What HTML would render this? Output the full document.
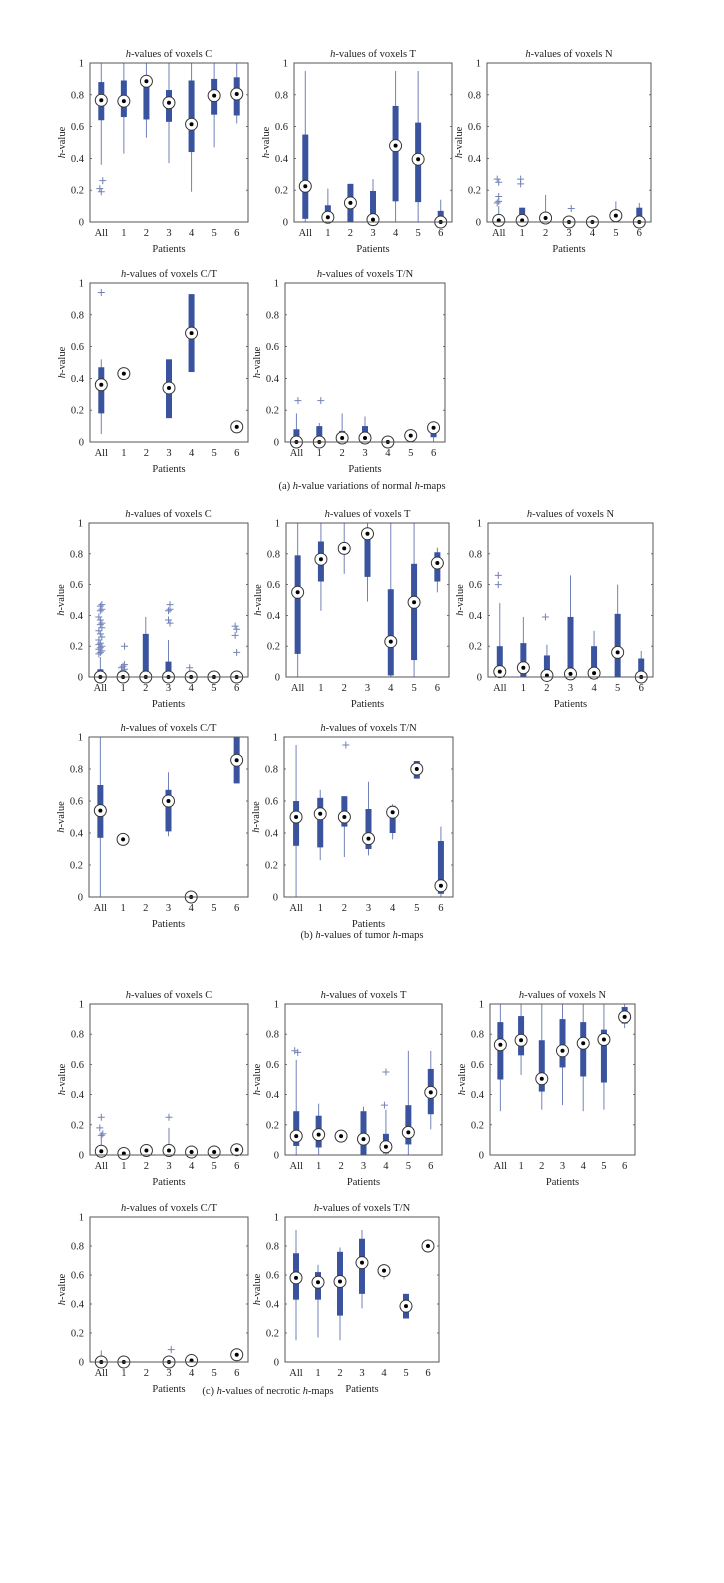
<!DOCTYPE html>
<html><head><meta charset="utf-8">
<style>
html,body{margin:0;padding:0;background:#fff;}
svg{display:block;font-family:"Liberation Serif",serif;}
</style></head>
<body>
<svg id="fig" width="724" height="1583" viewBox="0 0 724 1583" xmlns="http://www.w3.org/2000/svg"></svg>
<script>
const categories = ["All","1","2","3","4","5","6"];
const yTicks = [0,0.2,0.4,0.6,0.8,1];
const yTickLabels = ["0","0.2","0.4","0.6","0.8","1"];
const N = null;

// (a) normal - C
const aC_med=[0.766,0.76,0.885,0.75,0.615,0.795,0.805];
const aC_q1=[0.64,0.66,0.645,0.63,0.44,0.675,0.67];
const aC_q3=[0.88,0.89,0.92,0.83,0.89,0.90,0.91];
const aC_lo=[0.36,0.43,0.53,0.37,0.19,0.47,0.62];
const aC_hi=[1,1,1,1,1,1,1];
const aC_out=[[0.26,0.21,0.19],[],[],[],[],[],[]];
// (a) T
const aT_med=[0.225,0.03,0.12,0.015,0.48,0.395,0];
const aT_q1=[0.02,0,0,0,0.13,0.125,0];
const aT_q3=[0.55,0.105,0.24,0.195,0.73,0.625,0.07];
const aT_lo=[0,0,0,0,0,0,0];
const aT_hi=[0.95,0.21,0.24,0.27,0.95,0.95,0.14];
const aT_out=[[],[],[],[],[],[],[]];
// (a) N
const aN_med=[0.01,0.01,0.025,0,0,0.04,0];
const aN_q1=[0,0,0,N,N,0,0];
const aN_q3=[0.01,0.09,0.06,N,N,0.02,0.09];
const aN_lo=[0,0,0,0,0,0,0];
const aN_hi=[0.1,0.09,0.17,0,0,0.13,0.12];
const aN_out=[[0.27,0.25,0.16,0.13,0.12],[0.27,0.24],[],[0.085],[],[],[]];
// (a) C/T
const aCT_med=[0.36,0.43,N,0.34,0.685,N,0.095];
const aCT_q1=[0.18,N,N,0.15,0.44,N,0.06];
const aCT_q3=[0.47,N,N,0.52,0.93,N,0.13];
const aCT_lo=[0.05,N,N,0.15,0.44,N,0.06];
const aCT_hi=[0.52,N,N,0.52,0.93,N,0.13];
const aCT_out=[[0.94],[],[],[],[],[],[]];
// (a) T/N
const aTN_med=[0,0,0.025,0.025,0,0.04,0.09];
const aTN_q1=[0,0,0,0,N,0.02,0.03];
const aTN_q3=[0.08,0.1,0.07,0.1,N,0.06,0.07];
const aTN_lo=[0,0,0,0,0,0.02,0];
const aTN_hi=[0.18,0.12,0.18,0.16,0,0.06,0.1];
const aTN_out=[[0.26],[0.26],[],[],[],[],[]];

// (b) tumor - C
const bC_med=[0,0,0,0,0,0,0];
const bC_q1=[0,N,0,0,N,N,N];
const bC_q3=[0.05,N,0.28,0.1,N,N,N];
const bC_lo=[0,0,0,0,0,0,0];
const bC_hi=[0.13,0,0.39,0.24,0,0,0];
const bC_out=[[0.47,0.46,0.44,0.43,0.39,0.37,0.35,0.34,0.32,0.3,0.28,0.26,0.24,0.22,0.21,0.2,0.19,0.18,0.17,0.16,0.15],[0.2,0.08,0.07,0.06,0.05,0.04,0.03,0.02],[],[0.47,0.44,0.43,0.37,0.35],[0.06,0.01],[],[0.33,0.31,0.27,0.16]];
// (b) T
const bT_med=[0.55,0.765,0.835,0.93,0.23,0.485,0.74];
const bT_q1=[0.15,0.62,N,0.65,0.01,0.11,0.62];
const bT_q3=[0.79,0.88,N,0.93,0.57,0.735,0.81];
const bT_lo=[0,0.43,0.67,0.49,0,0,0.55];
const bT_hi=[1,1,1,1,1,1,0.84];
const bT_out=[[],[],[],[],[],[],[]];
// (b) N
const bN_med=[0.035,0.06,0.01,0.02,0.025,0.16,0];
const bN_q1=[0,0,0,0,0,0,0];
const bN_q3=[0.2,0.22,0.14,0.39,0.2,0.41,0.12];
const bN_lo=[0,0,0,0,0,0,0];
const bN_hi=[0.48,0.39,0.21,0.66,0.3,0.6,0.17];
const bN_out=[[0.66,0.6],[],[0.39],[],[],[],[]];
// (b) C/T
const bCT_med=[0.54,0.36,N,0.6,0,N,0.855];
const bCT_q1=[0.37,N,N,0.41,N,N,0.71];
const bCT_q3=[0.7,N,N,0.67,N,N,1];
const bCT_lo=[0,N,N,0.38,N,N,0.71];
const bCT_hi=[1,N,N,0.78,N,N,1];
const bCT_out=[[],[],[],[],[],[],[]];
// (b) T/N
const bTN_med=[0.5,0.52,0.5,0.365,0.53,0.8,0.07];
const bTN_q1=[0.32,0.31,0.44,0.3,0.4,0.74,0.02];
const bTN_q3=[0.6,0.62,0.63,0.55,0.57,0.85,0.35];
const bTN_lo=[0,0.23,0.25,0.26,0.36,0.74,0];
const bTN_hi=[0.95,0.67,0.63,0.72,0.58,0.85,0.44];
const bTN_out=[[],[],[0.95],[],[],[],[]];

// (c) necrotic - C
const cC_med=[0.025,0.01,0.03,0.03,0.02,0.02,0.035];
const cC_q1=[N,N,N,0,N,N,N];
const cC_q3=[N,N,N,0.07,N,N,N];
const cC_lo=[0,0.01,0.03,0,0.02,0.02,0.035];
const cC_hi=[0.14,0.01,0.03,0.18,0.05,0.06,0.07];
const cC_out=[[0.25,0.18,0.14,0.13],[],[],[0.25],[],[],[]];
// (c) T
const cT_med=[0.125,0.135,0.125,0.105,0.055,0.15,0.415];
const cT_q1=[0.06,0.05,N,0,0.01,0.07,0.27];
const cT_q3=[0.29,0.26,N,0.29,0.14,0.33,0.57];
const cT_lo=[0,0,0.125,0,0,0,0.17];
const cT_hi=[0.63,0.34,0.125,0.32,0.3,0.69,0.69];
const cT_out=[[0.69,0.68],[],[],[],[0.55,0.33],[],[]];
// (c) N
const cN_med=[0.73,0.76,0.505,0.69,0.74,0.765,0.915];
const cN_q1=[0.5,0.66,0.42,0.58,0.52,0.48,0.87];
const cN_q3=[0.88,0.92,0.76,0.9,0.88,0.83,0.98];
const cN_lo=[0.29,0.53,0.3,0.33,0.29,0.3,0.84];
const cN_hi=[1,1,1,1,1,1,1];
const cN_out=[[],[],[],[],[],[],[]];
// (c) C/T
const cCT_med=[0,0,N,0,0.01,N,0.05];
const cCT_q1=[N,N,N,N,N,N,N];
const cCT_q3=[N,N,N,N,N,N,N];
const cCT_lo=[0,0,N,0,0.01,N,0.05];
const cCT_hi=[0.08,0,N,0.02,0.01,N,0.05];
const cCT_out=[[],[],[],[0.085],[],[],[]];
// (c) T/N
const cTN_med=[0.58,0.55,0.555,0.685,0.63,0.385,0.8];
const cTN_q1=[0.43,0.43,0.32,0.47,0.59,0.3,N];
const cTN_q3=[0.75,0.62,0.76,0.85,0.63,0.47,N];
const cTN_lo=[0.15,0.17,0.15,0.37,0.57,0.3,0.76];
const cTN_hi=[0.91,0.67,0.79,0.91,0.63,0.47,0.8];
const cTN_out=[[],[],[],[],[],[],[]];

const svg=document.getElementById('fig');
const NS="http://www.w3.org/2000/svg";
function mk(tag,attrs,parent){const e=document.createElementNS(NS,tag);for(const k in attrs)e.setAttribute(k,attrs[k]);(parent||svg).appendChild(e);return e;}

const panels=[
 {id:'a-c',t:'C',x0:90,x1:248,y0:63,y1:222,d:[aC_med,aC_q1,aC_q3,aC_lo,aC_hi,aC_out]},
 {id:'a-t',t:'T',x0:294,x1:452,y0:63,y1:222,d:[aT_med,aT_q1,aT_q3,aT_lo,aT_hi,aT_out]},
 {id:'a-n',t:'N',x0:487,x1:651,y0:63,y1:222,d:[aN_med,aN_q1,aN_q3,aN_lo,aN_hi,aN_out]},
 {id:'a-ct',t:'C/T',x0:90,x1:248,y0:283,y1:442,d:[aCT_med,aCT_q1,aCT_q3,aCT_lo,aCT_hi,aCT_out]},
 {id:'a-tn',t:'T/N',x0:285,x1:445,y0:283,y1:442,d:[aTN_med,aTN_q1,aTN_q3,aTN_lo,aTN_hi,aTN_out]},
 {id:'b-c',t:'C',x0:89,x1:248,y0:523,y1:677,d:[bC_med,bC_q1,bC_q3,bC_lo,bC_hi,bC_out]},
 {id:'b-t',t:'T',x0:286,x1:449,y0:523,y1:677,d:[bT_med,bT_q1,bT_q3,bT_lo,bT_hi,bT_out]},
 {id:'b-n',t:'N',x0:488,x1:653,y0:523,y1:677,d:[bN_med,bN_q1,bN_q3,bN_lo,bN_hi,bN_out]},
 {id:'b-ct',t:'C/T',x0:89,x1:248,y0:737,y1:897,d:[bCT_med,bCT_q1,bCT_q3,bCT_lo,bCT_hi,bCT_out]},
 {id:'b-tn',t:'T/N',x0:284,x1:453,y0:737,y1:897,d:[bTN_med,bTN_q1,bTN_q3,bTN_lo,bTN_hi,bTN_out]},
 {id:'c-c',t:'C',x0:90,x1:248,y0:1004,y1:1155,d:[cC_med,cC_q1,cC_q3,cC_lo,cC_hi,cC_out]},
 {id:'c-t',t:'T',x0:285,x1:442,y0:1004,y1:1155,d:[cT_med,cT_q1,cT_q3,cT_lo,cT_hi,cT_out]},
 {id:'c-n',t:'N',x0:490,x1:635,y0:1004,y1:1155,d:[cN_med,cN_q1,cN_q3,cN_lo,cN_hi,cN_out]},
 {id:'c-ct',t:'C/T',x0:90,x1:248,y0:1217,y1:1362,d:[cCT_med,cCT_q1,cCT_q3,cCT_lo,cCT_hi,cCT_out]},
 {id:'c-tn',t:'T/N',x0:285,x1:439,y0:1217,y1:1362,d:[cTN_med,cTN_q1,cTN_q3,cTN_lo,cTN_hi,cTN_out]}
];

const BOX='#3a539f', WH='#7282b8';
panels.forEach(p=>{
  const g=mk('g',{});
  
  
  const w=p.x1-p.x0;
  const xs=i=>p.x0+(i+0.5)*w/categories.length;
  const ys=v=>p.y1-v*(p.y1-p.y0);
  // title
  const t=mk('text',{x:(p.x0+p.x1)/2,y:p.y0-6,'text-anchor':'middle','font-size':'10.5',fill:'#222'},g);
  
  
  t.innerHTML='<tspan font-style="italic">h</tspan>-values of voxels '+p.t;
  // y ticks
  yTicks.forEach((v,k)=>{
    const yy=ys(v);
    const l=mk('text',{x:p.x0-6,y:yy+3.5,'text-anchor':'end','font-size':'10.5',fill:'#222'},g);
    
    
    l.textContent=yTickLabels[k];
    mk('line',{x1:p.x0,x2:p.x0+2,y1:yy,y2:yy,stroke:'#555','stroke-width':0.8},g);
    mk('line',{x1:p.x1,x2:p.x1-2,y1:yy,y2:yy,stroke:'#555','stroke-width':0.8},g);
  });
  const yl=mk('text',{transform:`translate(${p.x0-25},${(p.y0+p.y1)/2}) rotate(-90)`,'text-anchor':'middle','font-size':'10.5',fill:'#222'},g);
  
  
  yl.innerHTML='<tspan font-style="italic">h</tspan>-value';
  categories.forEach((c,i)=>{
    const l=mk('text',{x:xs(i),y:p.y1+14,'text-anchor':'middle','font-size':'10.5',fill:'#222'},g);
    
    
    l.textContent=c;
  });
  const xl=mk('text',{x:(p.x0+p.x1)/2,y:p.y1+30,'text-anchor':'middle','font-size':'10.5',fill:'#222'},g);
  
  
  xl.textContent='Patients';
  const [med,q1,q3,lo,hi,out]=p.d;
  categories.forEach((c,i)=>{
    const x=xs(i);
    if(lo[i]!==null&&hi[i]!==null&&hi[i]>lo[i]){
      const wl=mk('line',{x1:x,x2:x,y1:ys(hi[i]),y2:ys(lo[i]),stroke:WH,'stroke-width':1},g);
      
      
    }
    if(q1[i]!==null&&q3[i]!==null){
      const h=Math.max(1.5,ys(q1[i])-ys(q3[i]));
      const r=mk('rect',{x:x-3,y:ys(q3[i]),width:6,height:h,fill:BOX},g);
      
      
    }
    (out[i]||[]).forEach(v=>{
      const ox=x+((v*100)%3-1)*1.5, oy=ys(v);
      const o=mk('path',{d:`M${ox-3.5} ${oy}H${ox+3.5}M${ox} ${oy-3.5}V${oy+3.5}`,stroke:WH,'stroke-width':1,fill:'none'},g);
      
      
    });
    if(med[i]!==null){
      const m=mk('circle',{cx:x,cy:ys(med[i]),r:6,fill:'#fff',stroke:'#333','stroke-width':1},g);
      
      
      mk('circle',{cx:x,cy:ys(med[i]),r:2,fill:'#000'},g);
    }
  });
  const fr=mk('rect',{x:p.x0,y:p.y0,width:w,height:p.y1-p.y0,fill:'none',stroke:'#555','stroke-width':1},g);
  
  
});

const caps=[[362,489,'(a)  ','h','-value variations of normal ','h','-maps'],[362,938,'(b)  ','h','-values of tumor ','h','-maps'],[268,1394,'(c)  ','h','-values of necrotic ','h','-maps']];
caps.forEach((c,k)=>{
  const t=mk('text',{x:c[0],y:c[1],'text-anchor':'middle','font-size':'10.5',fill:'#222'});
  
  
  t.innerHTML=c[2]+'<tspan font-style="italic">'+c[3]+'</tspan>'+c[4]+'<tspan font-style="italic">'+c[5]+'</tspan>'+c[6];
});
</script>
</body></html>
